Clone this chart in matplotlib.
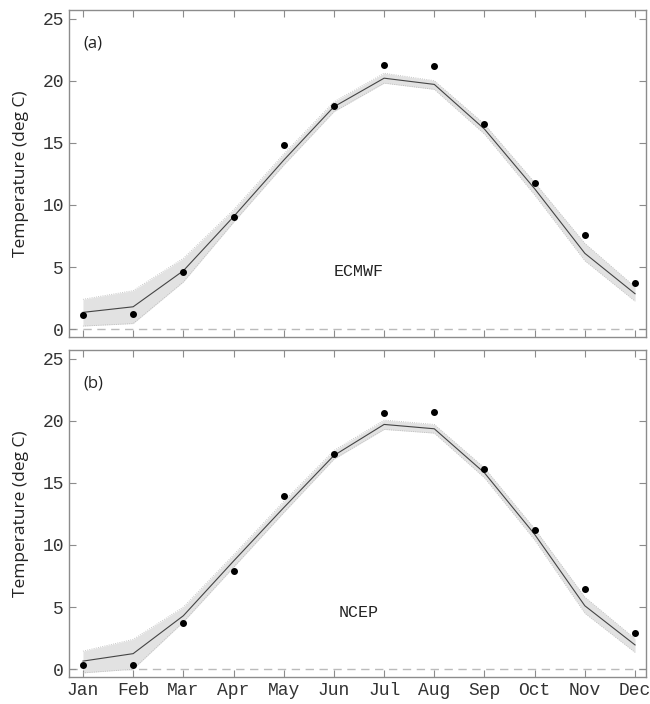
#!/usr/bin/env python3
# Monthly mean temperature: model ensemble spread vs observations

import matplotlib
matplotlib.use("Agg")
import matplotlib.pyplot as plt
import numpy as np

months = ['Jan', 'Feb', 'Mar', 'Apr', 'May', 'Jun',
          'Jul', 'Aug', 'Sep', 'Oct', 'Nov', 'Dec']

# ECMWF panel
ec_mean = [1.35, 1.8, 4.7, 9.05, 13.6, 17.9, 20.2, 19.7, 16.1, 11.3, 6.1, 2.85]
ec_low = [0.25, 0.45, 3.8, 8.6, 13.2, 17.5, 19.8, 19.3, 15.7, 10.8, 5.5, 2.25]
ec_high = [2.4, 3.1, 5.7, 9.6, 14.1, 18.3, 20.6, 20.0, 16.5, 11.8, 6.9, 3.4]
ec_obs = [1.15, 1.2, 4.6, 9.0, 14.8, 18.0, 21.25, 21.15, 16.5, 11.8, 7.6, 3.75]

# NCEP panel
nc_mean = [0.65, 1.25, 4.3, 8.7, 13.0, 17.2, 19.7, 19.35, 15.8, 10.85, 5.1, 1.95]
nc_low = [-0.3, 0.0, 3.8, 8.2, 12.6, 16.9, 19.3, 19.0, 15.4, 10.4, 4.5, 1.35]
nc_high = [1.45, 2.4, 5.0, 9.2, 13.5, 17.6, 20.05, 19.7, 16.2, 11.3, 5.8, 2.45]
nc_obs = [0.3, 0.3, 3.7, 7.9, 13.9, 17.3, 20.6, 20.7, 16.1, 11.2, 6.45, 2.9]

panels = [('(a)', 'ECMWF', ec_mean, ec_low, ec_high, ec_obs),
          ('(b)', 'NCEP', nc_mean, nc_low, nc_high, nc_obs)]

mono = 'Liberation Mono'
sans = 'Open Sans'
frame = '#8c8c8c'

fig = plt.figure(figsize=(6.5, 7.04), dpi=100)
boxes = [[0.106, 0.521, 0.888, 0.465], [0.106, 0.038, 0.888, 0.465]]

x = np.arange(1, 13)
for i, (tag, name, mean, low, high, obs) in enumerate(panels):
    ax = fig.add_axes(boxes[i])
    ax.fill_between(x, low, high, color='#e2e2e2', lw=0, zorder=1)
    ax.plot(x, low, color='#b8b8b8', lw=0.6, ls=':', zorder=2)
    ax.plot(x, high, color='#b8b8b8', lw=0.6, ls=':', zorder=2)
    ax.plot(x, mean, color='#444444', lw=0.8, zorder=3)
    ax.plot(x, obs, 'o', color='black', ms=4, zorder=4)
    ax.axhline(0, color='#bbbbbb', lw=1, ls=(0, (6, 4)), zorder=0)

    ax.set_xlim(0.72, 12.22)
    ax.set_ylim(-0.65, 25.7)
    ax.set_xticks(x)
    ax.set_yticks([0, 5, 10, 15, 20, 25])
    if i == 1:
        ax.set_xticklabels(months, fontfamily=mono, fontsize=13)
    else:
        ax.set_xticklabels([])
    for lbl in ax.get_yticklabels():
        lbl.set_fontfamily(mono)
        lbl.set_fontsize(13)
    ax.tick_params(direction='in', top=True, right=True, length=5,
                   color=frame, labelcolor='#333333', width=0.8)
    for sp in ax.spines.values():
        sp.set_color(frame)
        sp.set_linewidth(1)
    ax.set_ylabel('Temperature (deg C)', fontfamily=sans, fontsize=12.5,
                  labelpad=10, color='#222222')
    ax.text(1.0, 23.0, tag, fontfamily=sans, fontsize=12, va='center', ha='left',
            color='#222222')
    ax.text(6.5, 4.6, name, fontfamily=mono, fontsize=12, va='center', ha='center',
            color='#222222')

fig.savefig('out.png', dpi=100)
